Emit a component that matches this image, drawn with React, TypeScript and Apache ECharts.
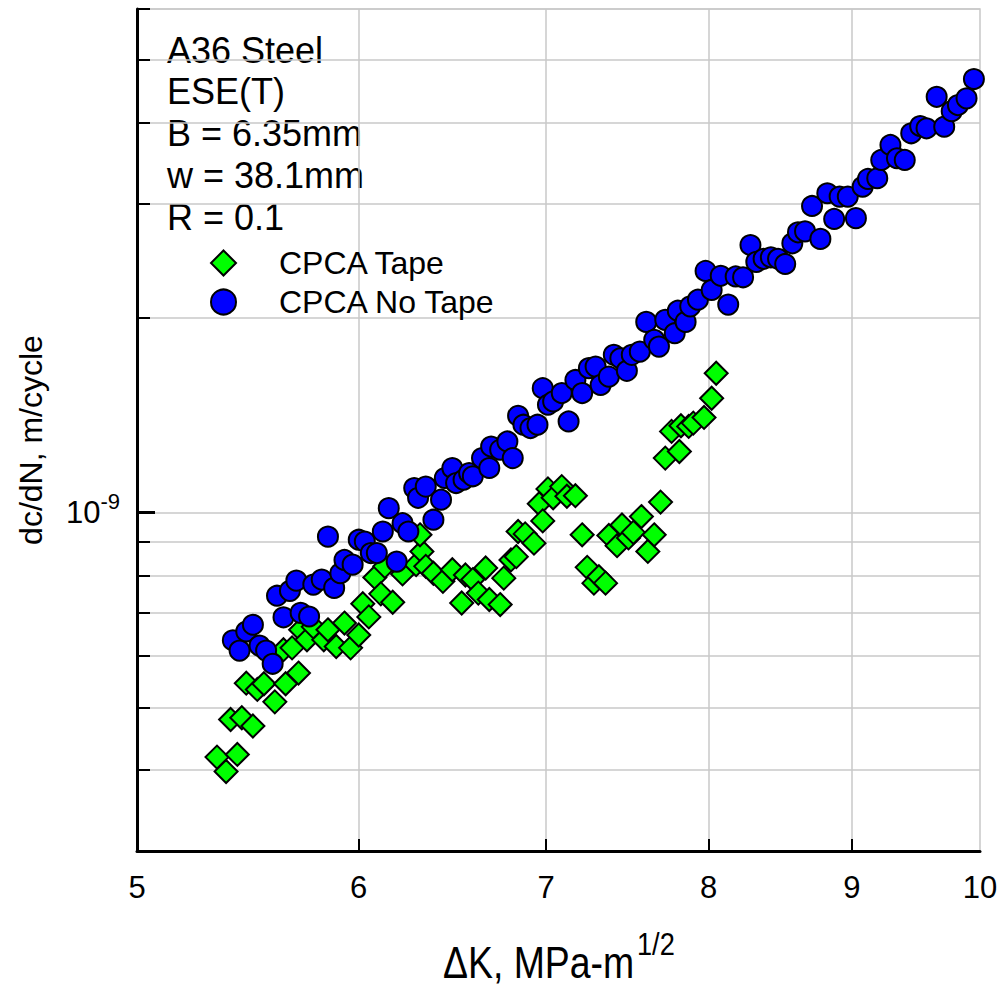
import React, { useEffect, useRef } from 'react';
import * as echarts from 'echarts';

// ---------- data ----------
// CPCA Tape (green diamonds): ΔK in MPa·m^1/2, dc/dN in m/cycle
const tapeDK = [
  5.34, 5.38, 5.43, 5.40, 5.45, 5.50, 5.47, 5.52, 5.55, 5.60,
  5.65, 5.71, 5.64, 5.68, 5.72, 5.75, 5.78, 5.83, 5.85, 5.89,
  5.93, 5.96, 6.00, 6.02, 6.05, 6.08, 6.11, 6.13, 6.17, 6.22,
  6.29, 6.32, 6.31, 6.34, 6.38, 6.43, 6.48, 6.53, 6.55, 6.59,
  6.62, 6.66, 6.68, 6.74, 6.76, 6.80, 6.83, 6.84, 6.88, 6.93,
  6.96, 6.98, 7.01, 7.04, 7.09, 7.12, 7.17, 7.21, 7.24, 7.28,
  7.31, 7.35, 7.37, 7.42, 7.45, 7.49, 7.52, 7.57, 7.61, 7.65,
  7.69, 7.72, 7.76, 7.81, 7.82, 7.87, 7.90, 7.97, 8.02, 8.05,
];
const tapeRate = [
  4.19e-10, 3.98e-10, 4.23e-10, 4.79e-10, 4.82e-10, 4.68e-10, 5.45e-10, 5.33e-10, 5.44e-10, 5.10e-10,
  5.44e-10, 5.65e-10, 6.14e-10, 6.18e-10, 6.59e-10, 6.36e-10, 6.66e-10, 6.36e-10, 6.59e-10, 6.21e-10,
  6.75e-10, 6.18e-10, 6.47e-10, 7.23e-10, 6.90e-10, 7.94e-10, 7.49e-10, 8.26e-10, 7.27e-10, 8.04e-10,
  8.31e-10, 8.71e-10, 9.24e-10, 8.26e-10, 8.06e-10, 7.83e-10, 8.16e-10, 7.25e-10, 8.01e-10, 7.88e-10,
  7.51e-10, 8.21e-10, 7.34e-10, 7.21e-10, 7.92e-10, 8.45e-10, 8.55e-10, 9.35e-10, 9.27e-10, 8.97e-10,
  1.032e-9, 9.71e-10, 1.088e-9, 1.054e-9, 1.097e-9, 1.060e-9, 1.062e-9, 9.24e-10, 8.23e-10, 7.78e-10,
  7.96e-10, 7.78e-10, 9.22e-10, 8.89e-10, 9.57e-10, 9.14e-10, 9.32e-10, 9.86e-10, 8.71e-10, 9.24e-10,
  1.038e-9, 1.214e-9, 1.335e-9, 1.243e-9, 1.362e-9, 1.359e-9, 1.375e-9, 1.403e-9, 1.502e-9, 1.642e-9,
];

// CPCA No Tape (blue circles)
const noTapeDK = [
  5.41, 5.44, 5.47, 5.50, 5.53, 5.56, 5.59, 5.61, 5.64, 5.67,
  5.70, 5.72, 5.76, 5.78, 5.82, 5.85, 5.88, 5.91, 5.93, 5.97,
  6.00, 6.03, 6.06, 6.09, 6.12, 6.15, 6.19, 6.22, 6.25, 6.28,
  6.30, 6.34, 6.38, 6.42, 6.44, 6.48, 6.50, 6.54, 6.57, 6.59,
  6.64, 6.68, 6.69, 6.74, 6.78, 6.81, 6.84, 6.87, 6.91, 6.95,
  6.98, 7.01, 7.04, 7.09, 7.13, 7.17, 7.21, 7.25, 7.29, 7.32,
  7.37, 7.40, 7.44, 7.48, 7.51, 7.56, 7.60, 7.65, 7.68, 7.72,
  7.78, 7.80, 7.85, 7.88, 7.93, 7.98, 8.02, 8.08, 8.13, 8.18,
  8.23, 8.28, 8.32, 8.37, 8.42, 8.47, 8.52, 8.57, 8.61, 8.66,
  8.71, 8.77, 8.82, 8.87, 8.91, 8.97, 9.03, 9.08, 9.12, 9.19,
  9.22, 9.29, 9.34, 9.40, 9.45, 9.52, 9.57, 9.65, 9.71, 9.77,
  9.82, 9.89, 9.95,
];
const noTapeRate = [
  6.35e-10, 6.12e-10, 6.55e-10, 6.71e-10, 6.23e-10, 6.12e-10, 5.84e-10, 7.44e-10, 6.89e-10, 7.57e-10,
  7.85e-10, 7.00e-10, 6.91e-10, 7.74e-10, 7.88e-10, 9.18e-10, 7.65e-10, 8.06e-10, 8.45e-10, 8.31e-10,
  9.08e-10, 9.02e-10, 8.66e-10, 8.66e-10, 9.35e-10, 1.016e-9, 8.40e-10, 9.63e-10, 9.35e-10, 1.091e-9,
  1.054e-9, 1.097e-9, 9.75e-10, 1.047e-9, 1.131e-9, 1.172e-9, 1.111e-9, 1.124e-9, 1.151e-9, 1.138e-9,
  1.214e-9, 1.172e-9, 1.265e-9, 1.251e-9, 1.288e-9, 1.214e-9, 1.411e-9, 1.367e-9, 1.351e-9, 1.367e-9,
  1.557e-9, 1.468e-9, 1.485e-9, 1.530e-9, 1.383e-9, 1.603e-9, 1.530e-9, 1.672e-9, 1.681e-9, 1.575e-9,
  1.622e-9, 1.753e-9, 1.732e-9, 1.656e-9, 1.753e-9, 1.773e-9, 1.971e-9, 1.849e-9, 1.805e-9, 1.985e-9,
  1.893e-9, 2.051e-9, 1.971e-9, 2.083e-9, 2.133e-9, 2.363e-9, 2.208e-9, 2.322e-9, 2.096e-9, 2.317e-9,
  2.310e-9, 2.591e-9, 2.440e-9, 2.467e-9, 2.480e-9, 2.467e-9, 2.422e-9, 2.607e-9, 2.711e-9, 2.720e-9,
  2.977e-9, 2.648e-9, 3.115e-9, 2.843e-9, 3.078e-9, 3.078e-9, 2.851e-9, 3.188e-9, 3.278e-9, 3.286e-9,
  3.507e-9, 3.699e-9, 3.528e-9, 3.507e-9, 3.856e-9, 3.957e-9, 3.925e-9, 4.390e-9, 3.947e-9, 4.172e-9,
  4.263e-9, 4.366e-9, 4.677e-9,
];

const seriesNames = ['CPCA Tape', 'CPCA No Tape'];
const xTickValues = [6, 7, 8, 9];
const xLabelValues = [5, 6, 7, 8, 9, 10];
const yGridValues = [4e-10, 5e-10, 6e-10, 7e-10, 8e-10, 9e-10, 1e-9, 2e-9, 3e-9, 4e-9, 5e-9, 6e-9];
const yMajorValues = [1e-9];
const annotationLines = ['A36 Steel', 'ESE(T)', 'B = 6.35mm', 'w = 38.1mm', 'R = 0.1'];
const xTitleMain = 'ΔK, MPa-m';
const xTitleSup = '1/2';
const yTitle = 'dc/dN, m/cycle';

const FONT = '"Liberation Sans", Arial, Helvetica, sans-serif';
const GRID_COLOR = '#c8c8c8';

export default function App() {
  const ref = useRef<HTMLDivElement>(null);

  useEffect(() => {
    if (!ref.current) return;
    const chart = echarts.init(ref.current, undefined, { renderer: 'svg' });

    const tapeData = tapeDK.map((x, i) => [x, tapeRate[i]]);
    const noTapeData = noTapeDK.map((x, i) => [x, noTapeRate[i]]);

    const annotationGraphics = annotationLines.map((t, i) => ({
      type: 'text',
      x: 167,
      y: 50 + i * 41.8,
      silent: true,
      style: {
        text: t,
        fontSize: 36,
        fontFamily: FONT,
        fill: '#000',
        align: 'left',
        verticalAlign: 'middle',
      },
    }));

    const option: any = {
      animation: false,
      textStyle: { fontFamily: FONT },
      grid: {
        left: 137,
        right: 26,
        top: 9,
        bottom: 141,
        show: true,
        borderColor: GRID_COLOR,
        borderWidth: 1.5,
        backgroundColor: 'transparent',
        outerBoundsMode: 'none',
      },
      legend: {
        left: 210,
        top: 247,
        orient: 'vertical',
        itemWidth: 25,
        itemHeight: 25,
        itemGap: 7,
        padding: 0,
        selectedMode: false,
        textStyle: {
          fontSize: 32,
          color: '#000',
          fontFamily: FONT,
          lineHeight: 32,
          padding: [0, 0, 0, 38],
        },
        data: [
          { name: seriesNames[0], icon: 'diamond' },
          { name: seriesNames[1], icon: 'circle' },
        ],
      },
      xAxis: {
        type: 'log',
        logBase: 10,
        min: 5,
        max: 10,
        axisLine: { show: true, lineStyle: { color: '#000', width: 3 } },
        axisTick: {
          show: true,
          inside: true,
          length: 12,
          customValues: xTickValues,
          lineStyle: { color: '#000', width: 2 },
        },
        axisLabel: {
          show: true,
          customValues: xLabelValues,
          showMinLabel: true,
          showMaxLabel: true,
          fontSize: 31,
          color: '#000',
          fontFamily: FONT,
          margin: 21,
          formatter: (v: number) => String(Math.round(v)),
        },
        splitLine: { show: true, lineStyle: { color: GRID_COLOR, width: 1.5 } },
        minorTick: { show: false },
        minorSplitLine: { show: false },
      },
      yAxis: [
        {
          type: 'log',
          logBase: 10,
          min: 3e-10,
          max: 6e-9,
          position: 'left',
          axisLine: { show: true, lineStyle: { color: '#000', width: 3 } },
          axisTick: {
            show: true,
            inside: true,
            length: 13,
            customValues: yGridValues,
            lineStyle: { color: '#000', width: 2 },
          },
          axisLabel: {
            show: true,
            customValues: yMajorValues,
            margin: 17,
            formatter: () => '{b|10}{s|-9}',
            rich: {
              b: { fontSize: 31, fontFamily: FONT, color: '#000', lineHeight: 44 },
              s: { fontSize: 22, fontFamily: FONT, color: '#000', lineHeight: 22, verticalAlign: 'top' },
            },
          },
          splitLine: { show: true, lineStyle: { color: GRID_COLOR, width: 1.5 } },
        },
        {
          type: 'log',
          logBase: 10,
          min: 3e-10,
          max: 6e-9,
          position: 'left',
          axisLine: { show: false },
          axisTick: {
            show: true,
            inside: true,
            length: 18,
            customValues: yMajorValues,
            lineStyle: { color: '#000', width: 3 },
          },
          axisLabel: { show: false },
          splitLine: { show: false },
        },
      ],
      series: [
        {
          type: 'scatter',
          name: seriesNames[0],
          symbol: 'diamond',
          symbolSize: 23,
          xAxisIndex: 0,
          yAxisIndex: 0,
          itemStyle: { color: '#00ff00', borderColor: '#000', borderWidth: 2, opacity: 1 },
          emphasis: { disabled: true },
          data: tapeData,
          z: 2,
        },
        {
          type: 'scatter',
          name: seriesNames[1],
          symbol: 'circle',
          symbolSize: 20,
          xAxisIndex: 0,
          yAxisIndex: 0,
          itemStyle: { color: '#0000ff', borderColor: '#000', borderWidth: 2, opacity: 1 },
          emphasis: { disabled: true },
          data: noTapeData,
          z: 3,
        },
      ],
      graphic: [
        ...annotationGraphics,
        {
          type: 'text',
          x: 443,
          y: 963,
          scaleX: 0.85,
          silent: true,
          style: {
            text: xTitleMain,
            fontSize: 44,
            fontFamily: FONT,
            fill: '#000',
            align: 'left',
            verticalAlign: 'middle',
          },
        },
        {
          type: 'text',
          x: 637,
          y: 944,
          scaleX: 0.85,
          silent: true,
          style: {
            text: xTitleSup,
            fontSize: 32,
            fontFamily: FONT,
            fill: '#000',
            align: 'left',
            verticalAlign: 'middle',
          },
        },
        {
          type: 'text',
          x: 31,
          y: 440,
          rotation: Math.PI / 2,
          silent: true,
          style: {
            text: yTitle,
            fontSize: 32,
            fontFamily: FONT,
            fill: '#000',
            align: 'center',
            verticalAlign: 'middle',
          },
        },
      ],
    };

    chart.setOption(option);
    return () => {
      chart.dispose();
    };
  }, []);

  return (
    <div
      ref={ref}
      style={{ position: 'fixed', left: 0, top: 0, width: 1006, height: 992, background: '#fff' }}
    />
  );
}
